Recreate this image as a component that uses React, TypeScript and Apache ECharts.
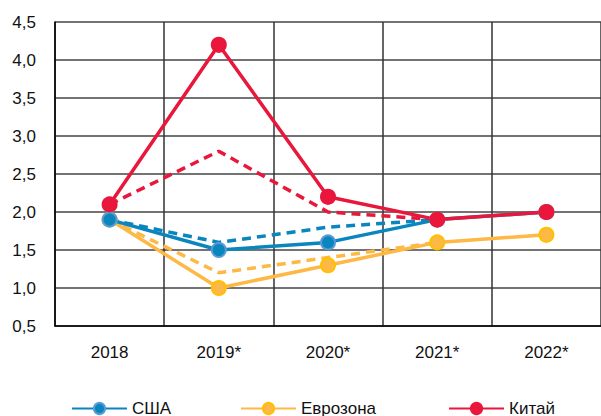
import React, { useEffect, useRef } from "react";
import * as echarts from "echarts";

const categories = ["2018", "2019*", "2020*", "2021*", "2022*"];
const usa = [1.9, 1.5, 1.6, 1.9, 2.0];
const euro = [1.9, 1.0, 1.3, 1.6, 1.7];
const china = [2.1, 4.2, 2.2, 1.9, 2.0];
const usaPrev = [1.9, 1.6, 1.8, 1.9, null];
const euroPrev = [1.9, 1.2, 1.4, 1.6, null];
const chinaPrev = [2.1, 2.8, 2.0, 1.9, null];

const BLUE = "#0a86be";
const YELLOW = "#fdb845";
const RED = "#e8173b";
const FONT = "Liberation Sans";

export default function App() {
  const ref = useRef<HTMLDivElement>(null);
  useEffect(() => {
    const chart = echarts.init(ref.current!, null, { renderer: "svg" });
    const solid = (name: string, data: number[], color: string, border: string) => ({
      name,
      type: "line",
      data,
      symbol: "circle",
      symbolSize: 14,
      lineStyle: { color, width: 3.5 },
      itemStyle: { color, borderColor: border, borderWidth: 2 },
      z: 3,
    });
    const dashed = (name: string, data: (number | null)[], color: string) => ({
      name,
      type: "line",
      data,
      showSymbol: false,
      symbol: "none",
      lineStyle: { color, width: 3.5, type: [9, 6] },
      itemStyle: { color },
      z: 2,
    });
    const legendText = { fontFamily: FONT, fontSize: 17, color: "#111" };
    const leg = (name: string, left: number) => ({
      data: [name],
      left,
      top: 400,
      padding: 0,
      itemWidth: 55,
      itemHeight: 14,
      itemGap: 4,
      textStyle: legendText,
    });
    chart.setOption({
      animation: false,
      grid: { left: 55, top: 22, width: 547, height: 304, containLabel: false },
      legend: [leg("США", 71), leg("Еврозона", 240), leg("Китай", 448)],
      xAxis: {
        type: "category",
        data: categories,
        boundaryGap: true,
        axisLine: { show: true, lineStyle: { color: "#000", width: 1.5 } },
        axisTick: { show: false },
        splitLine: { show: true, lineStyle: { color: "#333", width: 1.5 } },
        axisLabel: { fontFamily: FONT, fontSize: 17, color: "#111", margin: 18 },
      },
      yAxis: {
        type: "value",
        min: 0.5,
        max: 4.5,
        interval: 0.5,
        axisLine: { show: true, lineStyle: { color: "#000", width: 1.5 } },
        axisTick: { show: false },
        splitLine: { show: true, lineStyle: { color: "#444", width: 1.5 } },
        axisLabel: {
          fontFamily: FONT,
          fontSize: 17,
          color: "#111",
          margin: 19,
          formatter: (v: number) => v.toFixed(1).replace(".", ","),
        },
      },
      series: [
        dashed("Еврозона прогноз", euroPrev, YELLOW),
        dashed("США прогноз", usaPrev, BLUE),
        dashed("Китай прогноз", chinaPrev, RED),
        solid("Еврозона", euro, YELLOW, "#ffc000"),
        solid("США", usa, BLUE, "#5b9bd5"),
        solid("Китай", china, RED, RED),
      ],
    });
    return () => chart.dispose();
  }, []);
  return (
    <div
      ref={ref}
      style={{ position: "fixed", left: 0, top: 0, width: 601, height: 416, background: "#fff" }}
    />
  );
}
